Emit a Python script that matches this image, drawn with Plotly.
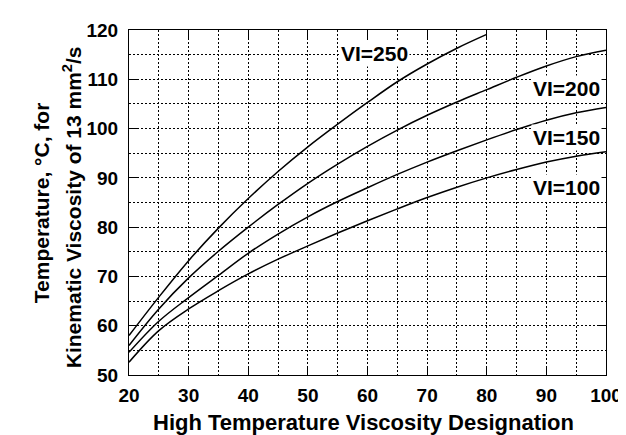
import plotly.graph_objects as go

hvd = [20, 25, 30, 35, 40, 45, 50, 55, 60, 65, 70, 75, 80, 85, 90, 95, 100]
vi100 = [52.6, 59.0, 63.4, 67.1, 70.5, 73.5, 76.2, 78.8, 81.3, 83.7, 86.0, 88.1, 90.0, 91.7, 93.2, 94.4, 95.3]
vi150 = [54.6, 60.9, 65.7, 70.2, 74.7, 78.6, 82.1, 85.2, 88.0, 90.7, 93.2, 95.5, 97.7, 99.8, 101.7, 103.2, 104.3]
vi200 = [56.0, 63.4, 69.7, 75.1, 80.0, 84.6, 88.9, 92.8, 96.4, 99.7, 102.7, 105.4, 107.9, 110.4, 112.7, 114.6, 115.9]
hvd250 = [20, 25, 30, 35, 40, 45, 50, 55, 60, 65, 70, 75, 80]
vi250 = [58.0, 65.8, 73.2, 79.8, 85.8, 91.3, 96.3, 100.9, 105.3, 109.5, 113.1, 116.3, 119.1]

labels = ["VI=250", "VI=200", "VI=150", "VI=100"]
label_x = [61.2, 93.3, 93.3, 93.3]
label_y = [115.2, 108.1, 98.1, 88.1]

x_ticks = [20, 30, 40, 50, 60, 70, 80, 90, 100]
y_ticks = [50, 60, 70, 80, 90, 100, 110, 120]

FONT = "Liberation Sans, Arial, sans-serif"

fig = go.Figure()
for xs, ys in [(hvd, vi100), (hvd, vi150), (hvd, vi200), (hvd250, vi250)]:
    fig.add_trace(go.Scatter(x=xs, y=ys, mode="lines",
                             line=dict(color="black", width=1.5, shape="spline", smoothing=1.0),
                             showlegend=False, hoverinfo="skip"))

for t, lx, ly in zip(labels, label_x, label_y):
    fig.add_annotation(x=lx, y=ly, xref="x", yref="y", text=t, showarrow=False,
                       font=dict(family=FONT, size=21, color="black", weight="bold"),
                       bgcolor="white", borderpad=1)

fig.add_annotation(x=0.492, y=-0.138, xref="paper", yref="paper",
                   text="High Temperature Viscosity Designation", showarrow=False,
                   xanchor="center", yanchor="middle",
                   font=dict(family=FONT, size=22, color="black", weight="bold"))
fig.add_annotation(x=-0.183, y=0.5, xref="paper", yref="paper",
                   text="Temperature, °C, for", showarrow=False, textangle=-90,
                   xanchor="center", yanchor="middle",
                   font=dict(family=FONT, size=21, color="black", weight="bold"))
fig.add_annotation(x=-0.119, y=0.487, xref="paper", yref="paper",
                   text="Kinematic Viscosity of 13 mm<sup>2</sup>/s", showarrow=False, textangle=-90,
                   xanchor="center", yanchor="middle",
                   font=dict(family=FONT, size=21, color="black", weight="bold"))

axis_common = dict(
    showline=True, linecolor="black", linewidth=1, mirror="ticks",
    ticks="inside", ticklen=8, tickcolor="black", tickwidth=1,
    showgrid=True, gridcolor="black", gridwidth=1, griddash="2px,2px",
    minor=dict(showgrid=True, gridcolor="black", gridwidth=1, griddash="2px,2px", dtick=5, ticks=""),
    zeroline=False,
    tickfont=dict(family=FONT, size=19, color="black", weight="bold"),
)

fig.update_xaxes(range=[20, 100], tickvals=x_ticks, ticktext=[str(v) for v in x_ticks],
                 ticklabelstandoff=3, **axis_common)
fig.update_yaxes(range=[50, 120], tickvals=y_ticks, ticktext=[str(v) for v in y_ticks],
                 ticklabelstandoff=6, **axis_common)

fig.update_layout(width=626, height=435, margin=dict(l=121, r=19, t=17, b=68),
                  plot_bgcolor="white", paper_bgcolor="white")

fig.write_html("out.html")
